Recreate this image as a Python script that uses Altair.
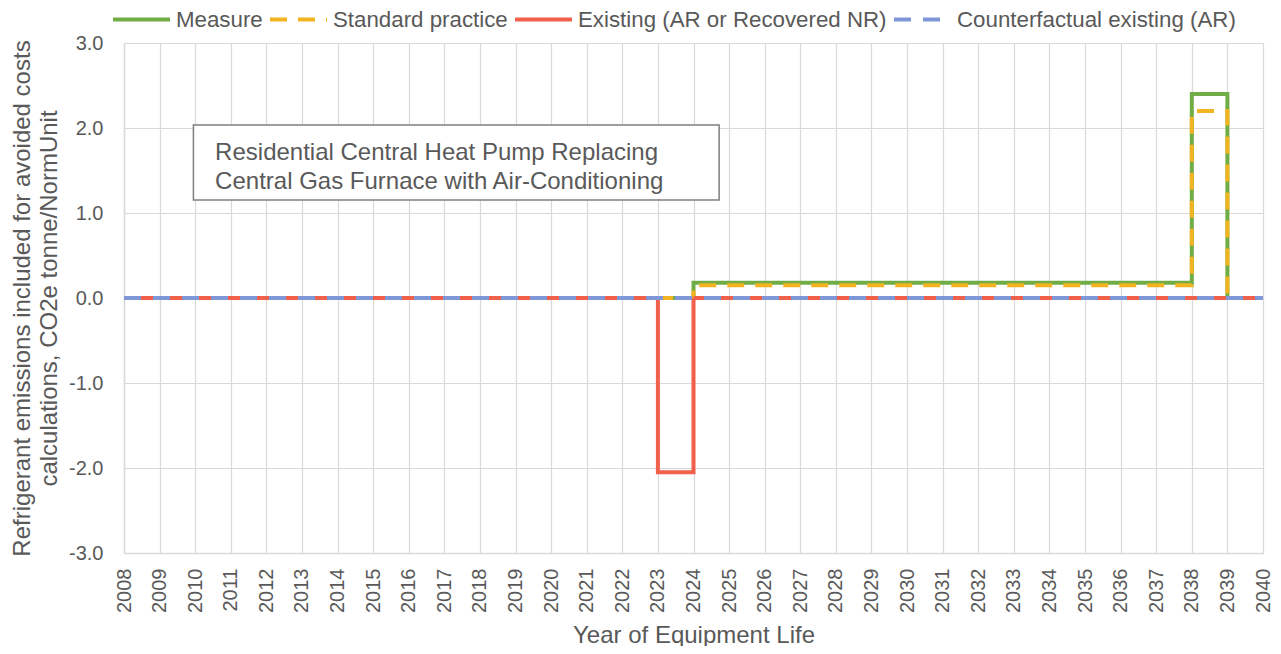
import altair as alt
import pandas as pd

years = list(range(2008, 2041))
series_names = ["Measure", "Standard practice", "Existing (AR or Recovered NR)", "Counterfactual existing (AR)"]
series_colors = ["#70AD47", "#F2B420", "#F0604A", "#7F97D8"]
series_dashes = [[1, 0], [17, 11], [1, 0], [17, 12]]

measure = [0, 0, 0, 0, 0, 0, 0, 0, 0, 0, 0, 0, 0, 0, 0, 0,
           0.18, 0.18, 0.18, 0.18, 0.18, 0.18, 0.18, 0.18, 0.18, 0.18, 0.18, 0.18, 0.18, 0.18,
           2.4, 0, 0]
standard = [0, 0, 0, 0, 0, 0, 0, 0, 0, 0, 0, 0, 0, 0, 0, 0,
            0.15, 0.15, 0.15, 0.15, 0.15, 0.15, 0.15, 0.15, 0.15, 0.15, 0.15, 0.15, 0.15, 0.15,
            2.2, 0, 0]
existing = [0, 0, 0, 0, 0, 0, 0, 0, 0, 0, 0, 0, 0, 0, 0,
            -2.05,
            0, 0, 0, 0, 0, 0, 0, 0, 0, 0, 0, 0, 0, 0, 0, 0, 0]
counterfactual = [0, 0, 0, 0, 0, 0, 0, 0, 0, 0, 0, 0, 0, 0, 0, 0,
                  0, 0, 0, 0, 0, 0, 0, 0, 0, 0, 0, 0, 0, 0, 0, 0, 0]

x_ticks = list(range(2008, 2041))
y_ticks = [-3, -2, -1, 0, 1, 2, 3]

# annotation box (data coordinates)
box_x = [2009.95]
box_x2 = [2024.72]
box_y = [2.035]
box_y2 = [1.153]
note_lines = ["Residential Central Heat Pump Replacing", "Central Gas Furnace with Air-Conditioning"]
note_x = [2010.56, 2010.56]
note_y = [1.624, 1.282]

rows = []
for name, vals in zip(series_names, [measure, standard, existing, counterfactual]):
    for yr, v in zip(years, vals):
        rows.append({"year": yr, "value": v, "series": name})
df = pd.DataFrame(rows)

FONT = "Liberation Sans"
GRAY = "#595959"

legend = alt.Legend(
    orient="none", legendX=-13, legendY=-54, direction="horizontal", title=None,
    symbolType="stroke", symbolSize=3249, symbolStrokeWidth=4,
    labelFontSize=22.3, labelColor=GRAY, labelFont=FONT, labelOffset=4,
    columnPadding=-1, labelLimit=0,
)

x_scale = alt.Scale(domain=[2008, 2040], nice=False, zero=False)
y_scale = alt.Scale(domain=[-3, 3], nice=False)
x_axis = alt.Axis(
    values=x_ticks, format="d", labelAngle=-90, labelFontSize=20, labelColor=GRAY,
    labelFont=FONT, labelPadding=15, title="Year of Equipment Life",
    titleFontSize=24, titleColor=GRAY, titleFont=FONT, titleFontWeight="normal",
    titleBaseline="alphabetic", titleY=89, labelOverlap=False,
)
y_axis = alt.Axis(
    values=y_ticks, format=".1f", labelExpr="replace(datum.label, '\u2212', '-')",
    labelFontSize=20, labelColor=GRAY, labelFont=FONT, labelPadding=21,
    title=["Refrigerant emissions included for avoided costs", "calculations, CO2e tonne/NormUnit"],
    titleFontSize=24, titleColor=GRAY, titleFont=FONT, titleFontWeight="normal",
    titlePadding=7, titleLineHeight=27,
)

layers = []
for name in series_names:
    layers.append(
        alt.Chart(df).transform_filter(alt.datum.series == name)
        .mark_line(interpolate="step-after", strokeWidth=4, strokeCap="butt", strokeJoin="miter")
        .encode(
            x=alt.X("year:Q", scale=x_scale, axis=x_axis),
            y=alt.Y("value:Q", scale=y_scale, axis=y_axis),
            color=alt.Color("series:N", scale=alt.Scale(domain=series_names, range=series_colors), legend=legend),
            strokeDash=alt.StrokeDash("series:N", scale=alt.Scale(domain=series_names, range=series_dashes), legend=legend),
        )
    )

box_df = pd.DataFrame({"x": box_x, "x2": box_x2, "y": box_y, "y2": box_y2})
box = alt.Chart(box_df).mark_rect(fill="white", stroke="#7F7F7F", strokeWidth=1.5).encode(
    x=alt.X("x:Q", scale=x_scale, axis=x_axis), x2="x2:Q",
    y=alt.Y("y:Q", scale=y_scale, axis=y_axis), y2="y2:Q",
)
note_df = pd.DataFrame({"x": note_x, "y": note_y, "t": note_lines})
note = alt.Chart(note_df).mark_text(
    align="left", baseline="alphabetic", fontSize=24, font=FONT, color=GRAY
).encode(
    x=alt.X("x:Q", scale=x_scale, axis=x_axis),
    y=alt.Y("y:Q", scale=y_scale, axis=y_axis),
    text="t:N",
)

chart = alt.layer(*layers, box, note).properties(
    width=1139, height=510,
    autosize=alt.AutoSizeParams(type="none"),
    padding={"left": 116, "top": 35, "right": 10, "bottom": 93},
).configure_view(stroke=None).configure_axis(
    gridColor="#D9D9D9", domainColor="#D9D9D9", domainWidth=1.5, gridWidth=1.2, ticks=False,
)

chart.save("out.html", embed_options={"renderer": "svg", "actions": False})
